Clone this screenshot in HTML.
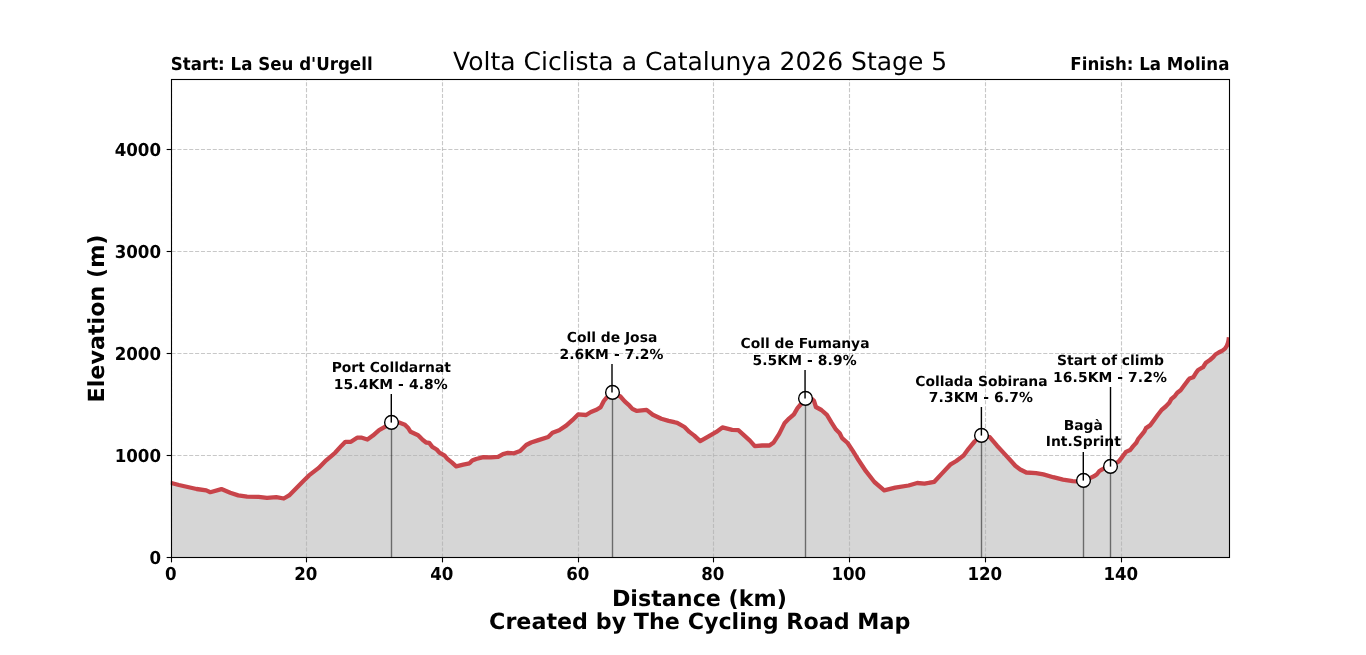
<!DOCTYPE html>
<html lang="en">
<head>
<meta charset="utf-8">
<title>Volta Ciclista a Catalunya 2026 Stage 5</title>
<style>
html,body{margin:0;padding:0;background:#fff;}
body{width:1366px;height:655px;overflow:hidden;}
svg{display:block;}
svg text{font-family:"DejaVu Sans","Liberation Sans",sans-serif;fill:#000;text-rendering:geometricPrecision;}
.b{font-weight:bold;}
.tick{font-size:16.67px;font-weight:bold;}
.side{font-size:16.67px;font-weight:bold;}
.title{font-size:25px;}
.axl{font-size:22.22px;font-weight:bold;}
.ann{font-size:13.89px;font-weight:bold;}
</style>
</head>
<body>
<svg width="1366" height="655" viewBox="0 0 1366 655">
<rect width="1366" height="655" fill="#fff"/>
<g opacity="0.999">
<defs><clipPath id="ax"><rect x="170.75" y="78.6" width="1058.65" height="478.8"/></clipPath></defs>
<g clip-path="url(#ax)">
<path d="M170 482.6 L172.2 483.2 L178.9 485 L187.7 487 L196.6 489 L206.3 490.4 L210.3 492.2 L221.4 489.1 L230.2 492.8 L238.2 495.4 L247.1 496.6 L258.6 496.9 L267 497.8 L276.3 497.2 L283.8 498.5 L289.1 495.4 L296 488.5 L302.9 481.6 L309 475.4 L318.7 467.9 L326.2 460.3 L335.1 452.8 L341.3 445.9 L345.4 441.8 L350.9 441.8 L357.1 437.7 L361.9 437.7 L367.4 439.5 L372.9 435.6 L379.1 430.1 L385.3 426.7 L391.5 422.6 L399.1 422.5 L404.9 424.7 L408.4 428.3 L410.6 431.8 L418.1 435.2 L422.6 439.8 L426.1 442.5 L429.2 442.9 L432.3 446.9 L436.7 449.5 L439.4 452.6 L444.7 455.7 L447.4 458.8 L451.8 462.4 L456.2 466.4 L463.3 464.6 L469.5 463.3 L472.2 460.6 L476.1 459 L483.4 457.2 L490.8 457.4 L498.1 456.9 L503 454.1 L507.9 452.9 L514 453.3 L520.1 451.1 L526.2 445 L531.1 442.5 L538.4 440.1 L548.2 437 L552.5 432.8 L559.2 430.3 L566.5 425.4 L572.6 419.9 L578.1 414.4 L586.1 415 L590.9 412 L597 409.5 L600.7 407.1 L603.8 401 L606.8 397.3 L612.5 392.4 L620.4 396.5 L624.7 401.4 L629.5 405.7 L632.6 409.1 L636.9 410.9 L646.6 409.9 L652.8 414.8 L661.3 418.8 L668.6 420.9 L677.2 422.8 L684.5 427 L689.4 431.9 L694.3 435.6 L700.2 441.1 L707.7 436.8 L716.3 431.9 L722.4 427.4 L727.3 428.6 L732.2 429.8 L738.3 430.1 L744.4 435.6 L749.9 440.6 L754.8 446.1 L762.1 445.5 L769.4 445.5 L773.7 442.4 L779.2 433.9 L784.7 422.9 L789 418.6 L793.9 414.3 L797.5 408.2 L800.6 404.5 L805.5 398.4 L811.5 398.6 L814 400.9 L815.9 407 L821.4 410 L826.9 414.9 L831.7 422.9 L836 429.6 L839.7 433.3 L842.1 438.1 L847.6 443 L852.5 450.4 L857.3 458.2 L865.9 471.2 L874.4 482 L884.2 490.4 L895.2 487.7 L908.6 485.5 L917.2 483 L924.5 483.6 L934.3 481.8 L941.6 473.9 L950.2 464.7 L956.3 461 L963.6 455.5 L968.5 448.8 L974.6 441.5 L981.5 435.4 L989.7 437.1 L997 445.7 L1004.3 453.6 L1010.4 460.3 L1015.3 465.8 L1020.2 469.5 L1026.3 472.5 L1036.1 473.1 L1043.4 474.4 L1053.2 477.2 L1063 479.6 L1072.7 481.1 L1076.4 481.4 L1083.5 480.6 L1088 479.2 L1091.5 477.4 L1094.4 476 L1096.9 474.2 L1099.4 471 L1101.8 469.6 L1104.2 468.3 L1110.5 466.2 L1118.6 461.7 L1122.2 457.1 L1125.9 451.9 L1130.2 450 L1133.2 446.1 L1136.3 442.7 L1138.1 439.1 L1141.2 435.4 L1144.2 431.7 L1146 428.1 L1150.4 425.1 L1154.1 419.9 L1157.7 415 L1161.4 410.2 L1165.7 406.5 L1169.3 402.8 L1171.2 399.2 L1174.8 396.1 L1177.3 392.7 L1180.6 390.2 L1184.1 385.5 L1187.7 380.7 L1189.5 378.5 L1193.2 377.3 L1195.7 373.3 L1198.1 370 L1203 367.2 L1205.9 362.8 L1209.9 360 L1213.2 357.2 L1215.4 354.5 L1218.7 352.5 L1222.4 350.6 L1225 348.6 L1226.8 345.9 L1227.9 342.9 L1228.6 340 L1228.9 337.3 L1229.5 557.5 L171.5 557.5 Z" fill="#d6d6d6"/>
<g stroke="#b0b0b0" stroke-opacity="0.7" stroke-width="1.1" stroke-dasharray="4.11 1.78" fill="none">
<line x1="171.5" y1="557.5" x2="171.5" y2="79.5"/>
<line x1="306.5" y1="557.5" x2="306.5" y2="79.5"/>
<line x1="442.5" y1="557.5" x2="442.5" y2="79.5"/>
<line x1="578.5" y1="557.5" x2="578.5" y2="79.5"/>
<line x1="713.5" y1="557.5" x2="713.5" y2="79.5"/>
<line x1="849.5" y1="557.5" x2="849.5" y2="79.5"/>
<line x1="985.5" y1="557.5" x2="985.5" y2="79.5"/>
<line x1="1121.5" y1="557.5" x2="1121.5" y2="79.5"/>
<line x1="171.5" y1="557.5" x2="1229.5" y2="557.5"/>
<line x1="171.5" y1="455.5" x2="1229.5" y2="455.5"/>
<line x1="171.5" y1="353.5" x2="1229.5" y2="353.5"/>
<line x1="171.5" y1="251.5" x2="1229.5" y2="251.5"/>
<line x1="171.5" y1="149.5" x2="1229.5" y2="149.5"/>
</g>
<path d="M170 482.6 L172.2 483.2 L178.9 485 L187.7 487 L196.6 489 L206.3 490.4 L210.3 492.2 L221.4 489.1 L230.2 492.8 L238.2 495.4 L247.1 496.6 L258.6 496.9 L267 497.8 L276.3 497.2 L283.8 498.5 L289.1 495.4 L296 488.5 L302.9 481.6 L309 475.4 L318.7 467.9 L326.2 460.3 L335.1 452.8 L341.3 445.9 L345.4 441.8 L350.9 441.8 L357.1 437.7 L361.9 437.7 L367.4 439.5 L372.9 435.6 L379.1 430.1 L385.3 426.7 L391.5 422.6 L399.1 422.5 L404.9 424.7 L408.4 428.3 L410.6 431.8 L418.1 435.2 L422.6 439.8 L426.1 442.5 L429.2 442.9 L432.3 446.9 L436.7 449.5 L439.4 452.6 L444.7 455.7 L447.4 458.8 L451.8 462.4 L456.2 466.4 L463.3 464.6 L469.5 463.3 L472.2 460.6 L476.1 459 L483.4 457.2 L490.8 457.4 L498.1 456.9 L503 454.1 L507.9 452.9 L514 453.3 L520.1 451.1 L526.2 445 L531.1 442.5 L538.4 440.1 L548.2 437 L552.5 432.8 L559.2 430.3 L566.5 425.4 L572.6 419.9 L578.1 414.4 L586.1 415 L590.9 412 L597 409.5 L600.7 407.1 L603.8 401 L606.8 397.3 L612.5 392.4 L620.4 396.5 L624.7 401.4 L629.5 405.7 L632.6 409.1 L636.9 410.9 L646.6 409.9 L652.8 414.8 L661.3 418.8 L668.6 420.9 L677.2 422.8 L684.5 427 L689.4 431.9 L694.3 435.6 L700.2 441.1 L707.7 436.8 L716.3 431.9 L722.4 427.4 L727.3 428.6 L732.2 429.8 L738.3 430.1 L744.4 435.6 L749.9 440.6 L754.8 446.1 L762.1 445.5 L769.4 445.5 L773.7 442.4 L779.2 433.9 L784.7 422.9 L789 418.6 L793.9 414.3 L797.5 408.2 L800.6 404.5 L805.5 398.4 L811.5 398.6 L814 400.9 L815.9 407 L821.4 410 L826.9 414.9 L831.7 422.9 L836 429.6 L839.7 433.3 L842.1 438.1 L847.6 443 L852.5 450.4 L857.3 458.2 L865.9 471.2 L874.4 482 L884.2 490.4 L895.2 487.7 L908.6 485.5 L917.2 483 L924.5 483.6 L934.3 481.8 L941.6 473.9 L950.2 464.7 L956.3 461 L963.6 455.5 L968.5 448.8 L974.6 441.5 L981.5 435.4 L989.7 437.1 L997 445.7 L1004.3 453.6 L1010.4 460.3 L1015.3 465.8 L1020.2 469.5 L1026.3 472.5 L1036.1 473.1 L1043.4 474.4 L1053.2 477.2 L1063 479.6 L1072.7 481.1 L1076.4 481.4 L1083.5 480.6 L1088 479.2 L1091.5 477.4 L1094.4 476 L1096.9 474.2 L1099.4 471 L1101.8 469.6 L1104.2 468.3 L1110.5 466.2 L1118.6 461.7 L1122.2 457.1 L1125.9 451.9 L1130.2 450 L1133.2 446.1 L1136.3 442.7 L1138.1 439.1 L1141.2 435.4 L1144.2 431.7 L1146 428.1 L1150.4 425.1 L1154.1 419.9 L1157.7 415 L1161.4 410.2 L1165.7 406.5 L1169.3 402.8 L1171.2 399.2 L1174.8 396.1 L1177.3 392.7 L1180.6 390.2 L1184.1 385.5 L1187.7 380.7 L1189.5 378.5 L1193.2 377.3 L1195.7 373.3 L1198.1 370 L1203 367.2 L1205.9 362.8 L1209.9 360 L1213.2 357.2 L1215.4 354.5 L1218.7 352.5 L1222.4 350.6 L1225 348.6 L1226.8 345.9 L1227.9 342.9 L1228.6 340 L1228.9 337.3" fill="none" stroke="#c8444a" stroke-width="4.3" stroke-linejoin="round" stroke-linecap="butt"/>
</g>
<line x1="391.5" y1="557.5" x2="391.5" y2="422.4" stroke="#000" stroke-opacity="0.5" stroke-width="1.39"/>
<line x1="612.5" y1="557.5" x2="612.5" y2="392.4" stroke="#000" stroke-opacity="0.5" stroke-width="1.39"/>
<line x1="805.5" y1="557.5" x2="805.5" y2="398.4" stroke="#000" stroke-opacity="0.5" stroke-width="1.39"/>
<line x1="981.5" y1="557.5" x2="981.5" y2="435.4" stroke="#000" stroke-opacity="0.5" stroke-width="1.39"/>
<line x1="1083.5" y1="557.5" x2="1083.5" y2="480.4" stroke="#000" stroke-opacity="0.5" stroke-width="1.39"/>
<line x1="1110.5" y1="557.5" x2="1110.5" y2="466.4" stroke="#000" stroke-opacity="0.5" stroke-width="1.39"/>
<circle cx="391.5" cy="422.4" r="6.85" fill="#fff" stroke="#000" stroke-width="1.39"/>
<circle cx="612.5" cy="392.4" r="6.85" fill="#fff" stroke="#000" stroke-width="1.39"/>
<circle cx="805.5" cy="398.4" r="6.85" fill="#fff" stroke="#000" stroke-width="1.39"/>
<circle cx="981.5" cy="435.4" r="6.85" fill="#fff" stroke="#000" stroke-width="1.39"/>
<circle cx="1083.5" cy="480.4" r="6.85" fill="#fff" stroke="#000" stroke-width="1.39"/>
<circle cx="1110.5" cy="466.4" r="6.85" fill="#fff" stroke="#000" stroke-width="1.39"/>
<line x1="391.3" y1="394" x2="391.3" y2="422.6" stroke="#000" stroke-width="1.42"/>
<text class="ann" text-anchor="middle" x="391.3" y="372">Port Colldarnat</text>
<text class="ann" text-anchor="middle" letter-spacing="0.1" x="390.8" y="389">15.4KM - 4.8%</text>
<line x1="612" y1="364" x2="612" y2="392.6" stroke="#000" stroke-width="1.42"/>
<text class="ann" text-anchor="middle" x="612" y="342">Coll de Josa</text>
<text class="ann" text-anchor="middle" letter-spacing="0.1" x="611.5" y="359">2.6KM - 7.2%</text>
<line x1="805.05" y1="370" x2="805.05" y2="398.6" stroke="#000" stroke-width="1.42"/>
<text class="ann" text-anchor="middle" x="805.05" y="348">Coll de Fumanya</text>
<text class="ann" text-anchor="middle" letter-spacing="0.1" x="804.55" y="365">5.5KM - 8.9%</text>
<line x1="981.4" y1="407" x2="981.4" y2="435.6" stroke="#000" stroke-width="1.42"/>
<text class="ann" text-anchor="middle" x="981.4" y="385.5">Collada Sobirana</text>
<text class="ann" text-anchor="middle" letter-spacing="0.1" x="980.9" y="402">7.3KM - 6.7%</text>
<line x1="1083.3" y1="452" x2="1083.3" y2="480.6" stroke="#000" stroke-width="1.42"/>
<text class="ann" text-anchor="middle" x="1083.3" y="430">Bagà</text>
<text class="ann" text-anchor="middle" x="1083.3" y="446">Int.Sprint</text>
<line x1="1110.5" y1="387" x2="1110.5" y2="466.6" stroke="#000" stroke-width="1.42"/>
<text class="ann" text-anchor="middle" x="1110.5" y="365">Start of climb</text>
<text class="ann" text-anchor="middle" letter-spacing="0.1" x="1110" y="382">16.5KM - 7.2%</text>
<rect x="171.5" y="79.5" width="1058" height="478" fill="none" stroke="#000" stroke-width="1.11"/>
<g stroke="#000" stroke-width="1.11">
<line x1="171.5" y1="557.5" x2="171.5" y2="562.36"/>
<line x1="306.5" y1="557.5" x2="306.5" y2="562.36"/>
<line x1="442.5" y1="557.5" x2="442.5" y2="562.36"/>
<line x1="578.5" y1="557.5" x2="578.5" y2="562.36"/>
<line x1="713.5" y1="557.5" x2="713.5" y2="562.36"/>
<line x1="849.5" y1="557.5" x2="849.5" y2="562.36"/>
<line x1="985.5" y1="557.5" x2="985.5" y2="562.36"/>
<line x1="1121.5" y1="557.5" x2="1121.5" y2="562.36"/>
<line x1="171.5" y1="557.5" x2="166.64" y2="557.5"/>
<line x1="171.5" y1="455.5" x2="166.64" y2="455.5"/>
<line x1="171.5" y1="353.5" x2="166.64" y2="353.5"/>
<line x1="171.5" y1="251.5" x2="166.64" y2="251.5"/>
<line x1="171.5" y1="149.5" x2="166.64" y2="149.5"/>
</g>
<text class="tick" text-anchor="middle" transform="translate(170.8 580) scale(1 1.07)">0</text>
<text class="tick" text-anchor="middle" transform="translate(305.8 580) scale(1 1.07)">20</text>
<text class="tick" text-anchor="middle" transform="translate(441.8 580) scale(1 1.07)">40</text>
<text class="tick" text-anchor="middle" transform="translate(577.8 580) scale(1 1.07)">60</text>
<text class="tick" text-anchor="middle" transform="translate(712.8 580) scale(1 1.07)">80</text>
<text class="tick" text-anchor="middle" transform="translate(848.8 580) scale(1 1.07)">100</text>
<text class="tick" text-anchor="middle" transform="translate(984.8 580) scale(1 1.07)">120</text>
<text class="tick" text-anchor="middle" transform="translate(1120.8 580) scale(1 1.07)">140</text>
<text class="tick" text-anchor="end" transform="translate(161 564) scale(1 1.07)">0</text>
<text class="tick" text-anchor="end" transform="translate(161 462) scale(1 1.07)">1000</text>
<text class="tick" text-anchor="end" transform="translate(161 360) scale(1 1.07)">2000</text>
<text class="tick" text-anchor="end" transform="translate(161 258) scale(1 1.07)">3000</text>
<text class="tick" text-anchor="end" transform="translate(161 156) scale(1 1.07)">4000</text>
<text class="title" text-anchor="middle" transform="translate(700.1 70.1)">Volta Ciclista a Catalunya 2026 Stage 5</text>
<text class="side" text-anchor="start" transform="translate(170.75 70) scale(1 1.07)">Start: La Seu d'Urgell</text>
<text class="side" text-anchor="end" transform="translate(1229.4 70) scale(1 1.07)">Finish: La Molina</text>
<text class="axl" text-anchor="middle" transform="translate(699.4 606)">Distance (km)</text>
<text class="axl" text-anchor="middle" transform="translate(699.7 629.4)">Created by The Cycling Road Map</text>
<text class="axl" text-anchor="middle" transform="translate(103.7 318.5) rotate(-90)">Elevation (m)</text>
</g>
</svg>
</body>
</html>
